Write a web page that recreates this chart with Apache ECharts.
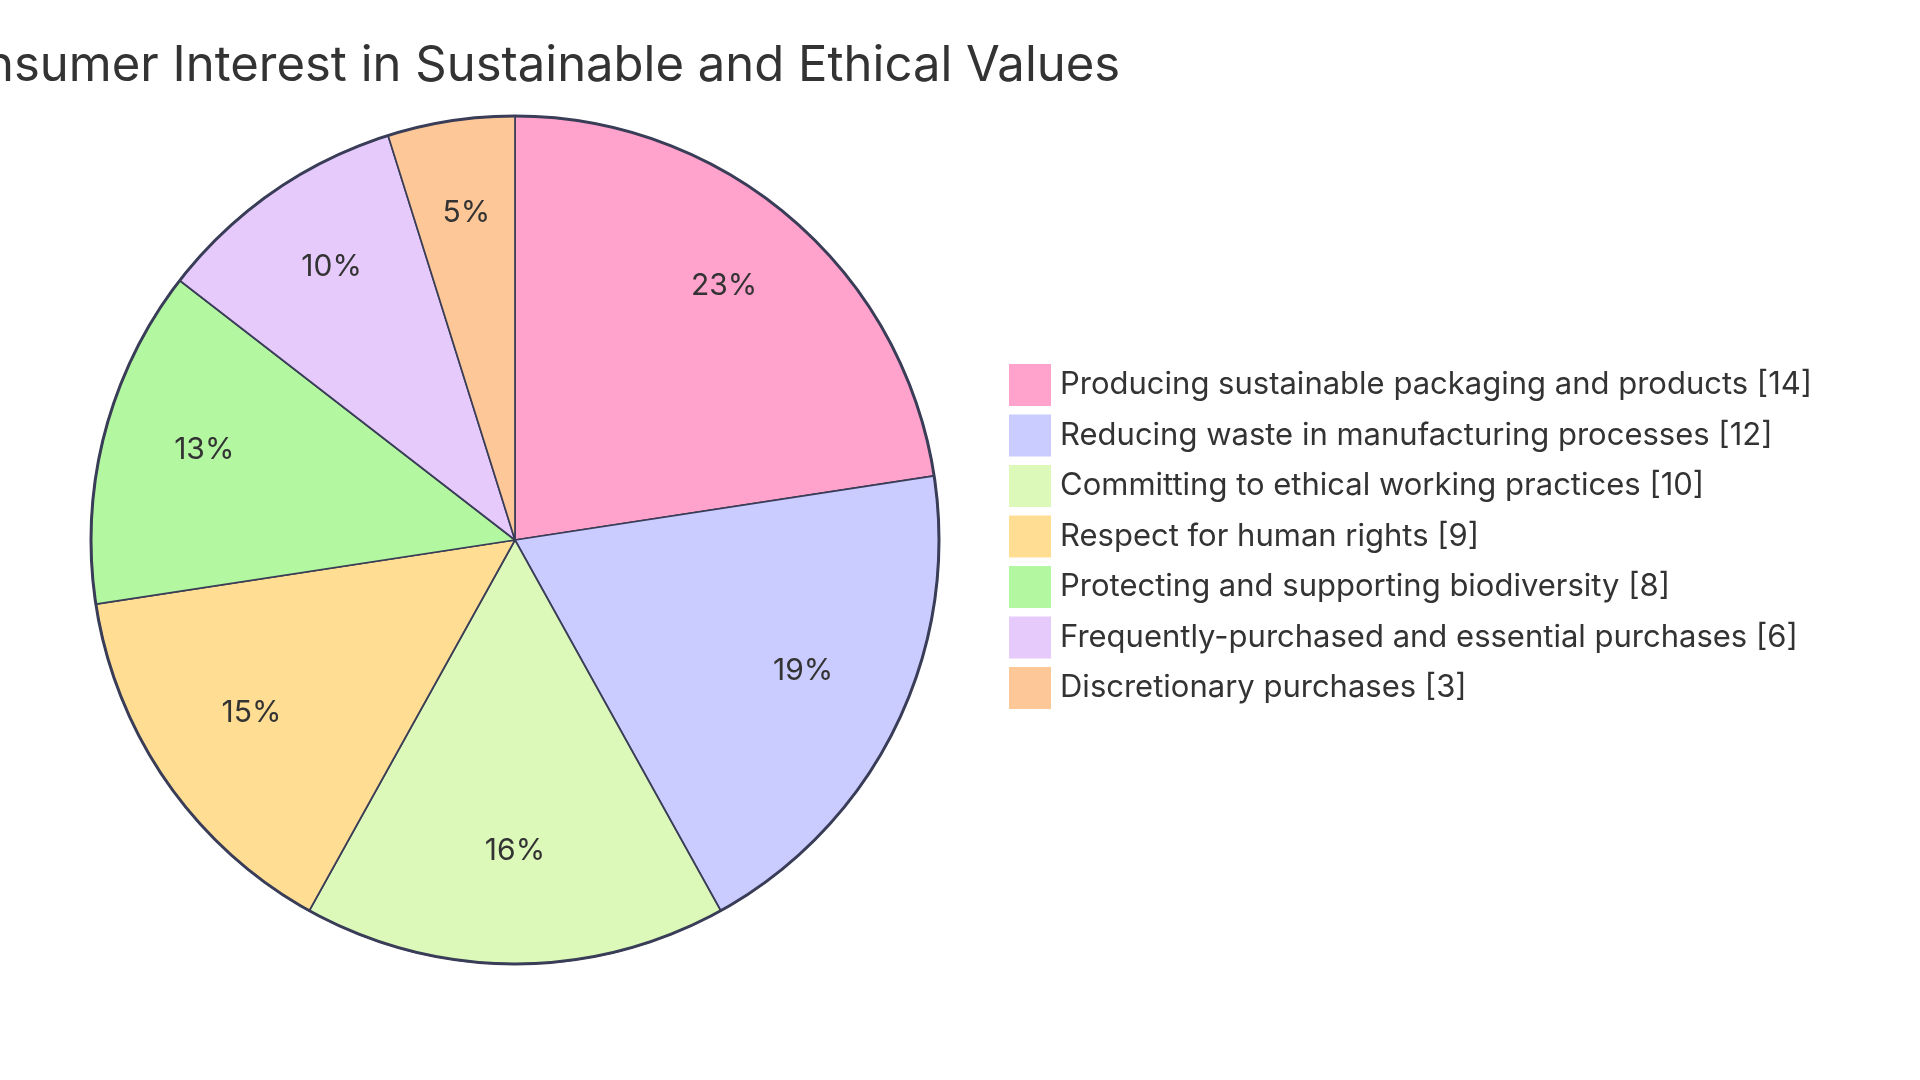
<!DOCTYPE html>
<html>
<head>
<meta charset="utf-8">
<script src="https://cdn.jsdelivr.net/npm/echarts@6/dist/echarts.min.js"></script>
<style>
html,body{margin:0;padding:0;background:#fff;}
#chart{width:1920px;height:1080px;}
</style>
</head>
<body>
<div id="chart"></div>
<script>
const titleText = "Consumer Interest in Sustainable and Ethical Values";
const categories = [
  "Producing sustainable packaging and products",
  "Reducing waste in manufacturing processes",
  "Committing to ethical working practices",
  "Respect for human rights",
  "Protecting and supporting biodiversity",
  "Frequently-purchased and essential purchases",
  "Discretionary purchases"
];
const values = [14, 12, 10, 9, 8, 6, 3];
const colors = ["#FFA3CC", "#CACBFF", "#DCF9BA", "#FFDE94", "#B3F7A0", "#E6CAFC", "#FEC797"];

const FONT = "Inter, 'Open Sans', sans-serif";
const STROKE = "#3A3D57";
const total = values.reduce((a, b) => a + b, 0);
const data = categories.map((c, i) => ({ name: c, value: values[i], itemStyle: { color: colors[i] } }));
const center = [515, 540];
const R = 424;

const chart = echarts.init(document.getElementById('chart'), null, { renderer: 'canvas' });
chart.setOption({
  animation: false,
  backgroundColor: '#ffffff',
  title: {
    text: titleText,
    left: 515,
    textAlign: 'center',
    top: 37,
    textStyle: { fontFamily: FONT, fontSize: 49, fontWeight: 'normal', color: '#333333' }
  },
  legend: {
    orient: 'vertical',
    left: 1004,
    top: 359,
    itemWidth: 42,
    itemHeight: 42,
    itemGap: 8.5,
    icon: 'rect',
    selectedMode: false,
    itemStyle: { borderWidth: 0 },
    data: categories,
    formatter: function (name) {
      const i = categories.indexOf(name);
      return name + ' [' + values[i] + ']';
    },
    textStyle: { fontFamily: FONT, fontSize: 31, color: '#333333', padding: [0, 0, 0, 4] }
  },
  series: [
    {
      type: 'pie',
      name: 'slices',
      center: center,
      radius: [0, R],
      startAngle: 90,
      clockwise: true,
      silent: true,
      label: { show: false },
      labelLine: { show: false },
      itemStyle: { borderColor: STROKE, borderWidth: 1.7 },
      data: data
    },
    {
      type: 'pie',
      name: 'labels',
      center: center,
      radius: [R * 0.5, R],
      startAngle: 90,
      clockwise: true,
      silent: true,
      legendHoverLink: false,
      itemStyle: { color: 'rgba(0,0,0,0)', borderWidth: 0 },
      label: {
        show: true,
        position: 'inside',
        offset: [0, -10],
        fontFamily: FONT,
        fontSize: 30,
        color: '#333333',
        formatter: function (p) { return (p.value / total * 100).toFixed(0) + '%'; }
      },
      labelLine: { show: false },
      data: categories.map((c, i) => ({ name: c + ' ', value: values[i] }))
    },
    {
      type: 'pie',
      name: 'outline',
      center: center,
      radius: [0, R],
      silent: true,
      label: { show: false },
      labelLine: { show: false },
      itemStyle: { color: 'rgba(0,0,0,0)', borderColor: STROKE, borderWidth: 3 },
      data: [{ name: 'outline', value: total }]
    }
  ]
});
</script>
</body>
</html>
